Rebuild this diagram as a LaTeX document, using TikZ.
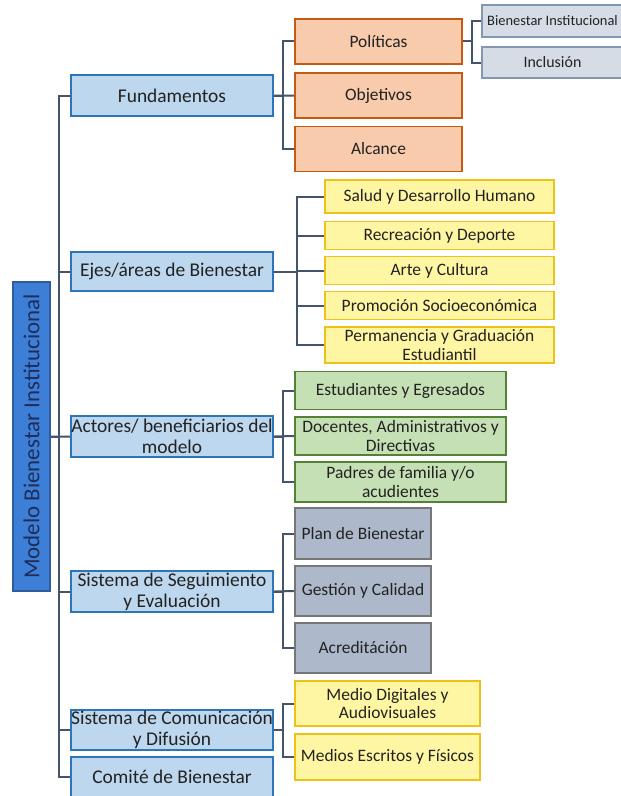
\documentclass[tikz,border=0pt]{standalone}
\usepackage{fontspec}
\setmainfont{Carlito}
\usepackage{tikz}
\usetikzlibrary{positioning,backgrounds}

\definecolor{linec}{HTML}{44546A}
\definecolor{rootf}{HTML}{3D7FD6}
\definecolor{rootb}{HTML}{2E5C9E}
\definecolor{roott}{HTML}{1F2D5A}
\definecolor{lvlf}{HTML}{BDD7EE}
\definecolor{lvlb}{HTML}{2E75B6}
\definecolor{orgf}{HTML}{F8CBAD}
\definecolor{orgb}{HTML}{C55A11}
\definecolor{slatef}{HTML}{D6DCE5}
\definecolor{slateb}{HTML}{8497B0}
\definecolor{yelf}{HTML}{FFF6A3}
\definecolor{yelb}{HTML}{EDC31A}
\definecolor{grnf}{HTML}{C5E0B4}
\definecolor{grnb}{HTML}{548235}
\definecolor{gryf}{HTML}{ADB9CA}
\definecolor{gryb}{HTML}{767676}
\definecolor{txt}{HTML}{222222}

\begin{document}
\begin{tikzpicture}[x=1bp, y=-1bp,
    conn/.style = {draw=linec, line width=2bp},
    boxbase/.style = {draw, align=center, inner sep=1bp, text=txt, line width=1.6bp},
    rootbox/.style = {boxbase, fill=rootf, draw=rootb, text=roott, rotate=90, minimum width=309bp, minimum height=37bp, font=\fontsize{23}{26}\selectfont},
    lvl/.style = {boxbase, fill=lvlf, draw=lvlb, line width=2.2bp, inner sep=0pt, minimum width=202bp, minimum height=41bp, font=\fontsize{19.5}{21}\selectfont},
    subbox/.style = {boxbase, font=\fontsize{17.5}{19}\selectfont},
    orgbox/.style = {subbox, fill=orgf, draw=orgb, minimum width=167bp, minimum height=45bp},
    slatebox/.style = {subbox, fill=slatef, draw=slateb, minimum width=141bp, minimum height=32bp},
    yelbox/.style = {subbox, fill=yelf, draw=yelb, minimum width=229bp, minimum height=28bp},
    grnbox/.style = {subbox, fill=grnf, draw=grnb, minimum width=211bp, minimum height=38bp},
    grybox/.style = {subbox, fill=gryf, draw=gryb, minimum width=136bp, minimum height=50bp}]
  \useasboundingbox (0,0) rectangle (621,796);

  % raiz
  \node[rootbox] (root) at (31.5,436.5) {Modelo Bienestar Institucional};

  % primer nivel
  \node[lvl] (fund) at (172,95.5) {Fundamentos};
  \node[lvl, minimum height=39bp, node distance=176bp] (ejes) [below of=fund] {Ejes/áreas de Bienestar};
  \node[lvl, node distance=165bp] (act) [below of=ejes] {Actores/ beneficiarios del\\modelo};
  \node[lvl, node distance=155bp] (seg) [below of=act] {Sistema de Seguimiento\\y Evaluación};
  \node[lvl, minimum height=40bp, node distance=138.5bp] (com) [below of=seg] {Sistema de Comunicación\\y Difusión};
  \node[lvl, minimum height=40bp, node distance=47bp] (comite) [below of=com] {Comité de Bienestar};

  % fundamentos
  \node[orgbox] (pol) at (378.5,41.5) {Políticas};
  \node[orgbox, node distance=54bp] (obj) [below of=pol] {Objetivos};
  \node[orgbox, node distance=53.5bp] (alc) [below of=obj] {Alcance};
  \node[slatebox, font=\fontsize{14.5}{17}\selectfont] (bi) at (552.5,21) {Bienestar Institucional};
  \node[slatebox, minimum height=31bp, node distance=41.5bp, font=\fontsize{16}{19}\selectfont] (incl) [below of=bi] {Inclusión};

  % ejes
  \node[yelbox, minimum height=33bp] (salud) at (439.5,196.5) {Salud y Desarrollo Humano};
  \node[yelbox, node distance=39bp] (recr) [below of=salud] {Recreación y Deporte};
  \node[yelbox, node distance=35bp] (arte) [below of=recr] {Arte y Cultura};
  \node[yelbox, node distance=35bp] (prom) [below of=arte] {Promoción Socioeconómica};
  \node[yelbox, minimum height=36bp, node distance=39.5bp] (perm) [below of=prom] {Permanencia y Graduación\\Estudiantil};

  % actores
  \node[grnbox] (estu) at (400.5,390.5) {Estudiantes y Egresados};
  \node[grnbox, node distance=45.5bp] (doc) [below of=estu] {Docentes, Administrativos y\\Directivas};
  \node[grnbox, minimum height=40bp, node distance=46bp] (padr) [below of=doc] {Padres de familia y/o\\acudientes};

  % seguimiento
  \node[grybox, minimum height=51bp] (plan) at (363,533.5) {Plan de Bienestar};
  \node[grybox, node distance=57.5bp] (gest) [below of=plan] {Gestión y Calidad};
  \node[grybox, node distance=57bp] (acre) [below of=gest] {Acreditáción};

  % comunicacion
  \node[yelbox, minimum width=185bp, minimum height=45bp] (digi) at (387.5,703.5) {Medio Digitales y\\Audiovisuales};
  \node[yelbox, minimum width=185bp, minimum height=46bp, node distance=53.5bp] (escr) [below of=digi] {Medios Escritos y Físicos};

  \begin{scope}[on background layer]
    \draw[conn] (root.south) -- (act.west);
    \draw[conn] (root.south) -| ([xshift=-11bp]fund.west) -- (fund.west);
    \draw[conn] (root.south) -| ([xshift=-11bp]ejes.west) -- (ejes.west);
    \draw[conn] (root.south) -| ([xshift=-11bp]seg.west) -- (seg.west);
    \draw[conn] (root.south) -| ([xshift=-11bp]com.west) -- (com.west);
    \draw[conn] (root.south) -| ([xshift=-11bp]comite.west) -- (comite.west);

    \draw[conn] (fund.east) -| ([xshift=-11bp]pol.west) -- (pol.west);
    \draw[conn] (fund.east) -- (obj.west);
    \draw[conn] (fund.east) -| ([xshift=-11bp]alc.west) -- (alc.west);
    \draw[conn] (pol.east) -| ([xshift=-9bp]bi.west) -- (bi.west);
    \draw[conn] (pol.east) -| ([xshift=-9bp]incl.west) -- (incl.west);

    \draw[conn] (ejes.east) -| ([xshift=-27bp]salud.west) -- (salud.west);
    \draw[conn] (ejes.east) -| ([xshift=-27bp]recr.west) -- (recr.west);
    \draw[conn] (ejes.east) -| ([xshift=-27bp]arte.west) -- (arte.west);
    \draw[conn] (ejes.east) -| ([xshift=-27bp]prom.west) -- (prom.west);
    \draw[conn] (ejes.east) -| ([xshift=-27bp]perm.west) -- (perm.west);

    \draw[conn] (act.east) -| ([xshift=-11bp]estu.west) -- (estu.west);
    \draw[conn] (act.east) -- (doc.west);
    \draw[conn] (act.east) -| ([xshift=-11bp]padr.west) -- (padr.west);

    \draw[conn] (seg.east) -| ([xshift=-11bp]plan.west) -- (plan.west);
    \draw[conn] (seg.east) -- (gest.west);
    \draw[conn] (seg.east) -| ([xshift=-11bp]acre.west) -- (acre.west);

    \draw[conn] (com.east) -| ([xshift=-11bp]digi.west) -- (digi.west);
    \draw[conn] (com.east) -| ([xshift=-11bp]escr.west) -- (escr.west);
  \end{scope}
\end{tikzpicture}
\end{document}
